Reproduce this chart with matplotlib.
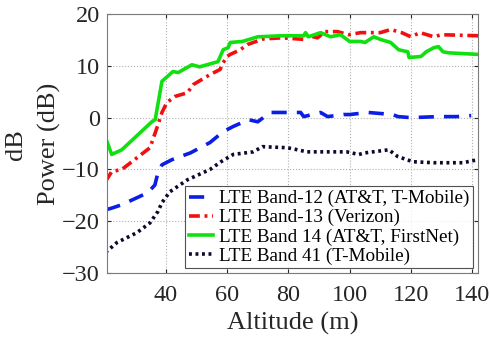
import numpy as np
import matplotlib.pyplot as plt

plt.rcParams['font.family'] = ['Liberation Serif', 'DejaVu Serif']

# LTE received power vs drone altitude
alt_b12 = [20.3, 22.6, 25.6, 34, 36.4, 37.4, 38.7, 42, 48, 54.4, 58.7, 62, 67, 70, 74, 78,
           84, 85, 90.5, 92.8, 98, 100, 106, 110, 114, 115.8, 120, 128.8, 135, 139.7]
pw_b12 = [-17.8, -17.4, -16.8, -14.5, -13, -10.6, -9.1, -8.1, -6.8, -4.8, -2.7, -1.7, -0.4, -0.8, 1, 1,
          1, 0.2, 1, 0.2, 0.6, 0.6, 1, 0.8, 0.6, 0.2, 0, 0.2, 0.2, 0.4]

alt_b13 = [20.3, 22.3, 25.6, 34.8, 35.4, 37.4, 38.7, 40.3, 43, 47, 49, 54.4, 57.7, 58.7, 60, 61,
           64.3, 66.6, 68.5, 72, 78, 85, 85.6, 89.5, 92, 96, 99.7, 103.6, 110, 113.4, 117, 120,
           123, 127.5, 130, 136, 142]
pw_b13 = [-12.3, -10.4, -10, -5.8, -4.8, -1.4, 1, 2.9, 4.1, 4.8, 6.4, 8.3, 9.3, 10.6, 11.8, 12.2,
          13.1, 14.1, 14.5, 15.2, 15.4, 15.1, 16, 15.4, 16.6, 16.6, 16, 16.4, 16.4, 17, 16.4, 15.6,
          16.4, 15.6, 16, 15.9, 15.8]

alt_b14 = [20.3, 22.3, 25.6, 35.4, 36.5, 38.7, 42.3, 44, 48.5, 51, 57, 58.7, 60.3, 61, 65, 70,
           78, 85, 85.6, 86.5, 90.5, 93.8, 97, 100, 103.6, 105, 107.9, 110, 113.4, 116, 119,
           119.4, 123.3, 125, 127.5, 129, 130.5, 132.5, 142]
pw_b14 = [-3.9, -7.1, -6.2, -0.8, -0.4, 7, 8.9, 8.7, 10.2, 9.8, 10.8, 13.1, 13.5, 14.5, 14.7, 15.6,
          15.8, 15.8, 16.4, 15.6, 16.4, 15.6, 16, 14.7, 14.7, 14.5, 15.6, 15.1, 14.5, 13.1, 12.7,
          11.6, 11.8, 12.7, 13.5, 13.7, 12.7, 12.5, 12.2]

alt_b41 = [20.3, 24, 30.5, 34.8, 37.4, 38.7, 41.3, 47, 54.4, 58, 62, 68.5, 71.5, 79.6, 83, 86,
           99, 103, 105, 112.8, 115.7, 120.6, 127.5, 137, 142]
pw_b41 = [-26, -24.1, -22.2, -20.3, -18.1, -16.4, -14.3, -12, -10, -8.5, -7.1, -6.6, -5.6, -5.8, -6.2, -6.6,
          -6.6, -7.1, -6.8, -6.2, -7.5, -8.5, -8.7, -8.7, -8.1]

fig = plt.figure(figsize=(4.9, 3.41), dpi=100)
ax = fig.add_axes([0.218, 0.199, 0.758, 0.760])

ax.plot(alt_b12, pw_b12, color='#0a1ee6', lw=2.6, linestyle=(0, (4.2, 2.8)),
        label='LTE Band-12 (AT&T, T-Mobile)')
ax.plot(alt_b13, pw_b13, color='#f01010', lw=2.6, linestyle=(0, (3, 1.3, 0.8, 1.3)),
        label='LTE Band-13 (Verizon)')
ax.plot(alt_b14, pw_b14, color='#10e010', lw=2.6, linestyle='-',
        label='LTE Band 14 (AT&T, FirstNet)')
ax.plot(alt_b41, pw_b41, color='#0a0a30', lw=2.6, linestyle=(0, (0.8, 1.0)),
        label='LTE Band 41 (T-Mobile)')

ax.set_xlim(20.7, 142)
ax.set_ylim(-30, 20)
ax.set_xticks([40, 60, 80, 100, 120, 140])
ax.set_yticks([-30, -20, -10, 0, 10, 20])
ax.grid(True, linestyle=':', color='#b0b0b0', lw=0.8)
ax.tick_params(direction='in', top=True, right=True, labelsize=17.5, colors='#262626',
               length=3, pad=5)
ax.tick_params(axis='x', pad=8.5)
for s in ax.spines.values():
    s.set_color('#7a7a7a')
    s.set_linewidth(0.8)

ax.set_xlabel('Altitude (m)', fontsize=19, color='#262626', labelpad=4)
ax.set_ylabel('Power (dB)', fontsize=19, color='#262626', labelpad=1)
fig.text(0.033, 0.575, 'dB', rotation=90, fontsize=19, color='#262626', ha='center', va='center')

leg = ax.legend(loc='lower right', fontsize=13.8, frameon=True, fancybox=False,
                edgecolor='#262626', handlelength=1.3, handletextpad=0.3,
                labelspacing=0.08, borderpad=0.2, borderaxespad=0.25)
leg.get_frame().set_linewidth(0.8)

fig.savefig('out.png', dpi=100)
